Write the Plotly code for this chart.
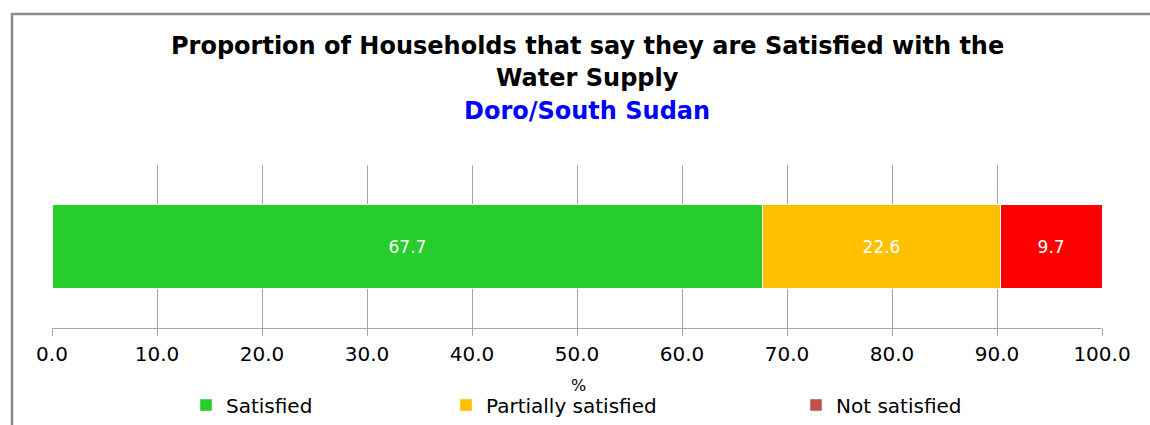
import plotly.graph_objects as go

# Survey result: share of households by satisfaction with the water supply
categories = ["Satisfied", "Partially satisfied", "Not satisfied"]
values = [67.7, 22.6, 9.7]
bar_colors = ["#27CD2A", "#FFC000", "#FF0000"]
legend_colors = ["#27CD2A", "#FFC000", "#C0504D"]
row_label = ["Doro"]
x_ticks = [0, 10, 20, 30, 40, 50, 60, 70, 80, 90, 100]

W, H = 1150, 425
ML, MR, MT, MB = 52, 48, 165, 97
PW, PH = W - ML - MR, H - MT - MB


def py(y_px):
    """Vertical pixel position (from top) -> paper coordinate."""
    return (H - MB - y_px) / PH


def px(x_px):
    """Horizontal pixel position (from left) -> paper coordinate."""
    return (x_px - ML) / PW


fig = go.Figure()

for name, val, col in zip(categories, values, bar_colors):
    fig.add_trace(go.Bar(
        x=[val], y=row_label, orientation="h", name=name,
        marker=dict(color=col, line=dict(color="white", width=1)),
        text=[f"{val:.1f}"], textposition="inside", insidetextanchor="middle",
        textfont=dict(color="white", size=17, family="DejaVu Sans"),
        showlegend=False, hoverinfo="x+name", width=0.51,
    ))

# Legend entries, each in its own legend box so they can be spaced freely
legend_x_px = [186, 446, 796]
for i, (name, col) in enumerate(zip(categories, legend_colors)):
    key = "legend" if i == 0 else f"legend{i + 1}"
    fig.add_trace(go.Bar(
        x=[None], y=row_label, orientation="h", name=name,
        marker=dict(color=col), showlegend=True, legend=key,
    ))

legend_common = dict(
    orientation="h", xanchor="left", yanchor="middle",
    yref="container", xref="container",
    font=dict(family="DejaVu Sans", size=20, color="#000000"),
    bgcolor="rgba(0,0,0,0)", itemwidth=30,
)
for i, lx in enumerate(legend_x_px):
    key = "legend" if i == 0 else f"legend{i + 1}"
    fig.update_layout(**{key: dict(legend_common, x=lx / W, y=1 - 405 / H)})

# Title lines
title_lines = [
    ("<b>Proportion of Households that say they are Satisfied with the</b>", "#000000", 46),
    ("<b>Water Supply</b>", "#000000", 78),
    ("<b>Doro/South Sudan</b>", "#0000FF", 111),
]
for text, col, ypx in title_lines:
    fig.add_annotation(
        text=text, xref="paper", yref="paper", x=px(587), y=py(ypx),
        xanchor="center", yanchor="middle", showarrow=False,
        font=dict(family="DejaVu Sans", size=24, color=col),
    )

# Axis unit label under the tick labels
fig.add_annotation(
    text="%", xref="paper", yref="paper", x=px(578), y=py(385),
    xanchor="center", yanchor="middle", showarrow=False,
    font=dict(family="DejaVu Sans", size=16, color="#000000"),
)

fig.update_layout(
    width=W, height=H,
    margin=dict(l=ML, r=MR, t=MT, b=MB, autoexpand=False),
    paper_bgcolor="white", plot_bgcolor="white",
    barmode="stack",
    xaxis=dict(
        range=[0, 100], tickvals=x_ticks,
        ticktext=[f"{v:.1f}" for v in x_ticks],
        showgrid=True, gridcolor="#A6A6A6", gridwidth=1,
        showline=True, linecolor="#A6A6A6", linewidth=1,
        ticks="outside", ticklen=7, tickcolor="#A6A6A6",
        ticklabelstandoff=1,
        tickfont=dict(family="DejaVu Sans", size=20, color="#000000"),
        zeroline=False, fixedrange=True,
    ),
    yaxis=dict(showticklabels=False, showgrid=False, zeroline=False, showline=False),
    font=dict(family="DejaVu Sans"),
)

# Frame around the chart area
fig.add_shape(type="rect", xref="paper", yref="paper",
              x0=px(12), x1=px(1200), y0=py(H + 40), y1=py(14),
              line=dict(color="#8C8C8C", width=2.5), layer="below")

fig.write_html("out.html")
